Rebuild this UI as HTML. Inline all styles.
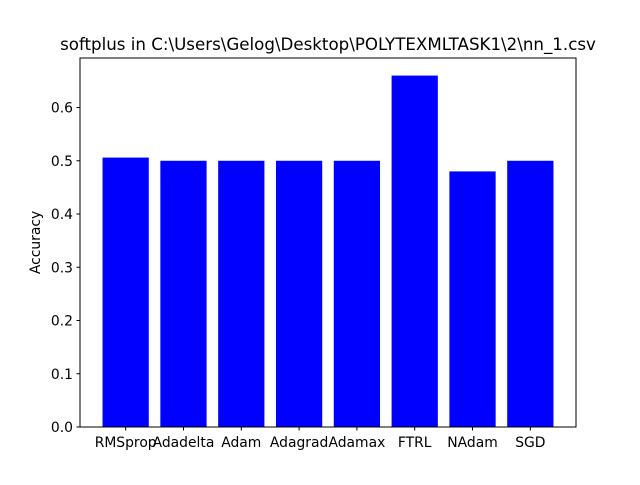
<!DOCTYPE html>
<html><head><meta charset="utf-8"><style>
body{margin:0;background:#fff;}
svg text{font-family:"DejaVu Sans","Liberation Sans",sans-serif;fill:#000;}
</style></head><body>
<svg id="chart" width="640" height="480" xmlns="http://www.w3.org/2000/svg">
<rect width="640" height="480" fill="#fff"/>
<text x="328" y="50" font-size="16.67" text-anchor="middle">softplus in C:\Users\Gelog\Desktop\POLYTEXMLTASK1\2\nn_1.csv</text>
<text transform="translate(40,242.5) rotate(-90)" font-size="13.89" text-anchor="middle">Accuracy</text>
<g id="bars"></g><g id="ticks"></g>
<rect x="80" y="58" width="496" height="369" fill="none" stroke="#000" stroke-width="1"/>
</svg>
<script>
const categories=["RMSprop","Adadelta","Adam","Adagrad","Adamax","FTRL","NAdam","SGD"];
const accuracy=[0.506,0.5,0.5,0.5,0.5,0.66,0.48,0.5];
const yTicks=[0,0.1,0.2,0.3,0.4,0.5,0.6];
const yTickLabels=["0.0","0.1","0.2","0.3","0.4","0.5","0.6"];
const L=80,R=576,T=58,B=427,NS="http://www.w3.org/2000/svg";
const ymax=Math.max(...accuracy)*1.05;
const xmin=-0.4-0.05*(categories.length-0.2),xmax=categories.length-0.6+0.05*(categories.length-0.2);
const x=v=>L+(v-xmin)/(xmax-xmin)*(R-L);
const y=v=>B-v/ymax*(B-T);
const bars=document.getElementById('bars'),ticks=document.getElementById('ticks');
function mk(t,a,p){const e=document.createElementNS(NS,t);for(const k in a)e.setAttribute(k,a[k]);p.appendChild(e);return e;}
categories.forEach((c,i)=>{
 const r=mk('rect',{x:x(i-0.4),y:y(accuracy[i]),width:x(i+0.4)-x(i-0.4),height:B-y(accuracy[i]),fill:'#0000ff'},bars);
 
 
 mk('line',{x1:x(i),x2:x(i),y1:B,y2:B+3.5,stroke:'#000'},ticks);
 const t=mk('text',{x:x(i),y:B+20,'font-size':13.89,'text-anchor':'middle'},ticks);t.textContent=c;
 
 
});
yTicks.forEach((v,i)=>{
 mk('line',{x1:L-3.5,x2:L,y1:y(v),y2:y(v),stroke:'#000'},ticks);
 const t=mk('text',{x:L-7,y:y(v)+5,'font-size':13.89,'text-anchor':'end'},ticks);t.textContent=yTickLabels[i];
 
 
});
</script>
</body></html>
